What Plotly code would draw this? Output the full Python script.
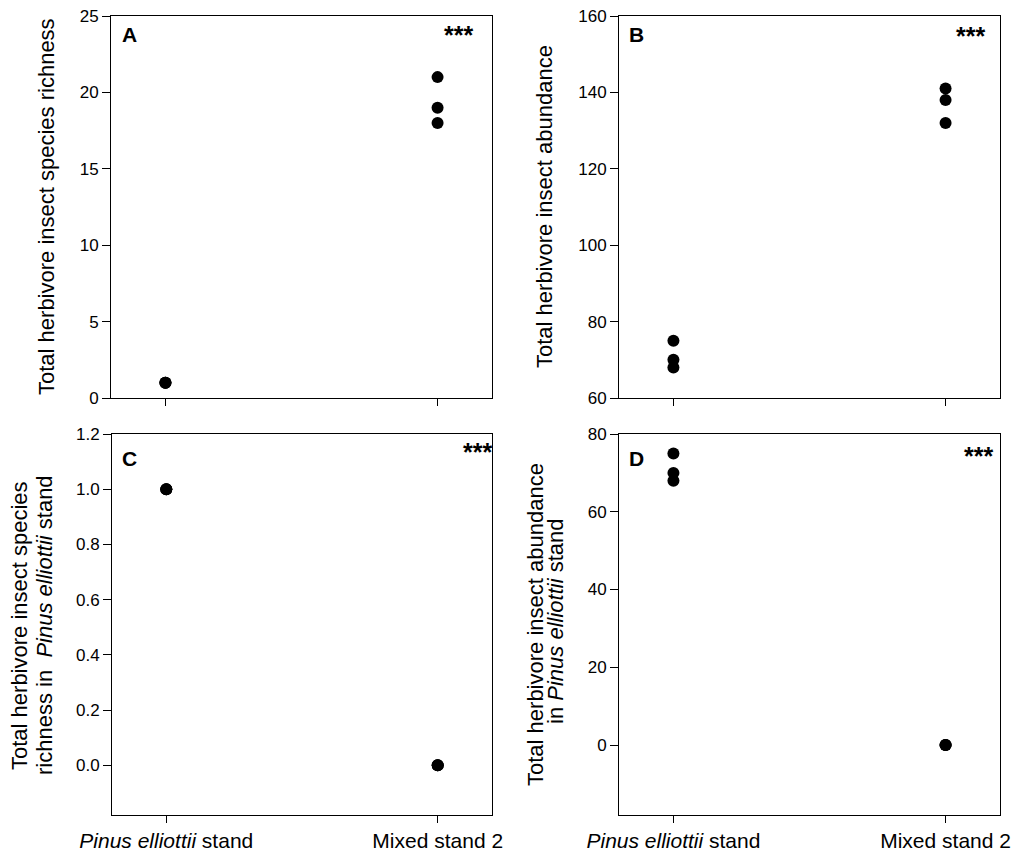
import plotly.graph_objects as go

# ---------------- data ----------------
categories = ["Pinus elliottii stand", "Mixed stand 2"]
category_labels = ["<i>Pinus elliottii</i> stand", "Mixed stand 2"]

richness_pine = [1, 1, 1]
richness_mixed = [21, 19, 18]

abundance_pine = [75, 70, 68]
abundance_mixed = [141, 138, 132]

richness_in_pine_pine = [1, 1, 1]
richness_in_pine_mixed = [0, 0, 0]

abundance_in_pine_pine = [75, 70, 68]
abundance_in_pine_mixed = [0, 0, 0]

panel_letters = ["A", "B", "C", "D"]
significance = ["***", "***", "***", "***"]

y_titles = [
    ["Total herbivore insect species richness"],
    ["Total herbivore insect abundance"],
    ["Total herbivore insect species", "richness in  <i>Pinus elliottii</i> stand"],
    ["Total herbivore insect abundance", "in <i>Pinus elliottii</i> stand"],
]

# ---------------- layout helpers ----------------
W, H = 1013, 863
FONT = "Arial, Liberation Sans, sans-serif"


def fx(p):
    return p / W


def fy(p):
    return 1 - p / H


# plot areas in pixels: (left, right, top, bottom)
areas = [
    (111, 492, 16, 398),
    (619, 1000, 16, 398),
    (112, 492, 434, 815),
    (619, 1000, 434, 815),
]

series = [
    (richness_pine, richness_mixed),
    (abundance_pine, abundance_mixed),
    (richness_in_pine_pine, richness_in_pine_mixed),
    (abundance_in_pine_pine, abundance_in_pine_mixed),
]

y_axes = [
    dict(range=[0, 25], tick0=0, dtick=5),
    dict(range=[60, 160], tick0=60, dtick=20),
    dict(range=[-0.18, 1.2], tick0=0, dtick=0.2, tickformat=".1f"),
    dict(range=[-18, 80], tick0=0, dtick=20),
]

fig = go.Figure()
layout = dict(
    width=W,
    height=H,
    margin=dict(l=0, r=0, t=0, b=0),
    paper_bgcolor="white",
    plot_bgcolor="white",
    showlegend=False,
    font=dict(family=FONT, color="black"),
    annotations=[],
)

for i, ((l, r, t, b), (pine, mixed), yax) in enumerate(zip(areas, series, y_axes)):
    n = i + 1
    xa = "x" if n == 1 else f"x{n}"
    ya = "y" if n == 1 else f"y{n}"
    xs = [categories[0]] * len(pine) + [categories[1]] * len(mixed)
    ys = list(pine) + list(mixed)
    fig.add_trace(go.Scatter(
        x=xs, y=ys, mode="markers",
        marker=dict(size=12, color="black"),
        xaxis=xa, yaxis=ya, cliponaxis=False,
    ))
    bottom_row = i >= 2
    layout["xaxis" if n == 1 else f"xaxis{n}"] = dict(
        domain=[fx(l), fx(r)],
        anchor=ya,
        type="category",
        categoryorder="array",
        categoryarray=categories,
        range=[-0.2, 1.2],
        tickvals=categories,
        ticktext=category_labels,
        showticklabels=bottom_row,
        tickfont=dict(size=21, family=FONT, color="black"),
        ticks="outside", ticklen=7, tickwidth=1, tickcolor="black",
        showline=True, linecolor="black", linewidth=1, mirror=True,
        showgrid=False, zeroline=False, automargin=False,
        fixedrange=True,
    )
    ydict = dict(
        domain=[fy(b), fy(t)],
        anchor=xa,
        tickfont=dict(size=17, family=FONT, color="black"),
        ticks="outside", ticklen=8, tickwidth=1, tickcolor="black",
        showline=True, linecolor="black", linewidth=1, mirror=True,
        showgrid=False, zeroline=False, automargin=False,
        fixedrange=True,
    )
    ydict.update(yax)
    layout["yaxis" if n == 1 else f"yaxis{n}"] = ydict

# panel letters
letter_pos = [(129, 35), (636, 35), (129, 458), (636, 458)]
for letter, (x, y) in zip(panel_letters, letter_pos):
    layout["annotations"].append(dict(
        text=f"<b>{letter}</b>", x=fx(x), y=fy(y), xref="paper", yref="paper",
        showarrow=False, xanchor="center", yanchor="middle",
        font=dict(size=21, family=FONT, color="black"),
    ))

# significance stars
star_pos = [(458, 35), (970, 36), (477, 452), (978, 456)]
for s, (x, y) in zip(significance, star_pos):
    layout["annotations"].append(dict(
        text=f"<b>{s}</b>", x=fx(x), y=fy(y), xref="paper", yref="paper",
        showarrow=False, xanchor="center", yanchor="middle",
        font=dict(size=25, family=FONT, color="black"),
    ))

# y-axis titles (one annotation per text line)
title_pos = [
    [(47, 207)],
    [(545, 207)],
    [(19, 626), (44, 625)],
    [(535, 625), (555, 622)],
]
for lines, positions in zip(y_titles, title_pos):
    for txt, (x, y) in zip(lines, positions):
        layout["annotations"].append(dict(
            text=txt, x=fx(x), y=fy(y), xref="paper", yref="paper",
            showarrow=False, xanchor="center", yanchor="middle", textangle=-90,
            font=dict(size=22, family=FONT, color="black"),
        ))

fig.update_layout(**layout)

fig.write_html("out.html", post_script="document.body.style.margin='0';",
               config={"displayModeBar": False})
